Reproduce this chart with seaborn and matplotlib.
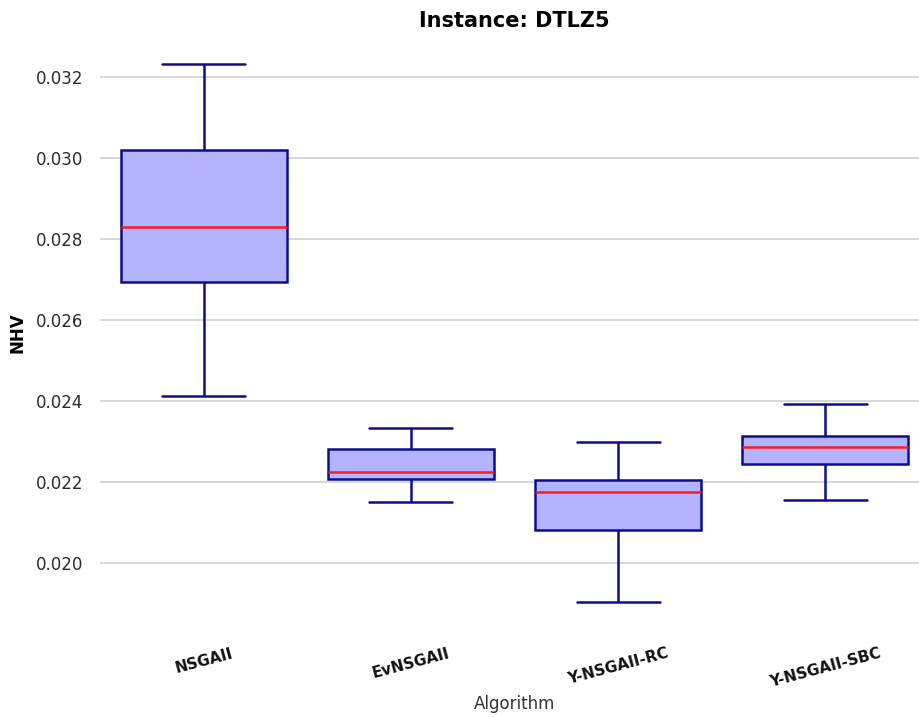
import numpy as np
import pandas as pd
import matplotlib
matplotlib.use("Agg")
import matplotlib.pyplot as plt
import seaborn as sns

# Five-number summaries (min, Q1, median, Q3, max) of NHV per algorithm
algorithms = ["NSGAII", "EvNSGAII", "Y-NSGAII-RC", "Y-NSGAII-SBC"]
nsgaii = [0.02414, 0.02695, 0.02830, 0.03021, 0.03233]
evnsgaii = [0.02151, 0.02207, 0.02226, 0.02282, 0.02333]
y_nsgaii_rc = [0.01904, 0.02081, 0.02176, 0.02206, 0.02299]
y_nsgaii_sbc = [0.02157, 0.02244, 0.02286, 0.02314, 0.02394]

series = [nsgaii, evnsgaii, y_nsgaii_rc, y_nsgaii_sbc]
df = pd.DataFrame({
    "Algorithm": np.repeat(algorithms, [len(s) for s in series]),
    "NHV": np.concatenate(series),
})

sns.set_style("whitegrid")
plt.rcParams["font.family"] = ["DejaVu Sans"]

fig = plt.figure(figsize=(9.2, 7.17), dpi=100)
ax = fig.add_axes([100 / 920, 1 - 629 / 717, 829 / 920, (629 - 37) / 717])

edge = "#0d0d8f"
sns.boxplot(
    data=df, x="Algorithm", y="NHV", order=algorithms, ax=ax,
    width=0.8, whis=(0, 100), saturation=1,
    color="#b3b3ff", linecolor=edge, linewidth=1.8,
    medianprops={"color": "#ff1a1a", "linewidth": 1.8},
)

ax.set_xlim(-0.5, 3.5)
ax.set_ylim(0.018375, 0.032995)
ax.set_yticks([0.020, 0.022, 0.024, 0.026, 0.028, 0.030, 0.032])
ax.set_yticklabels([f"{v:.3f}" for v in ax.get_yticks()], fontsize=12, color="#2b2b2b")

ax.grid(axis="x", visible=False)
ax.grid(axis="y", color="#d4d4d4", linewidth=1.3)
for s in ax.spines.values():
    s.set_visible(False)

ax.tick_params(axis="y", length=4, width=0.9, color="#444444", pad=8)
ax.tick_params(axis="x", length=0, pad=12)
for lab in ax.get_xticklabels():
    lab.set_rotation(15)
    lab.set_fontweight("bold")
    lab.set_fontsize(11)
    lab.set_color("#111111")

ax.set_title("Instance: DTLZ5", fontsize=15, fontweight="bold", color="black", pad=7)
ax.set_ylabel("NHV", fontsize=12, fontweight="bold", color="black", labelpad=7)
ax.set_xlabel("Algorithm", fontsize=12, color="#333333")

fig.savefig("out.png", dpi=100)
